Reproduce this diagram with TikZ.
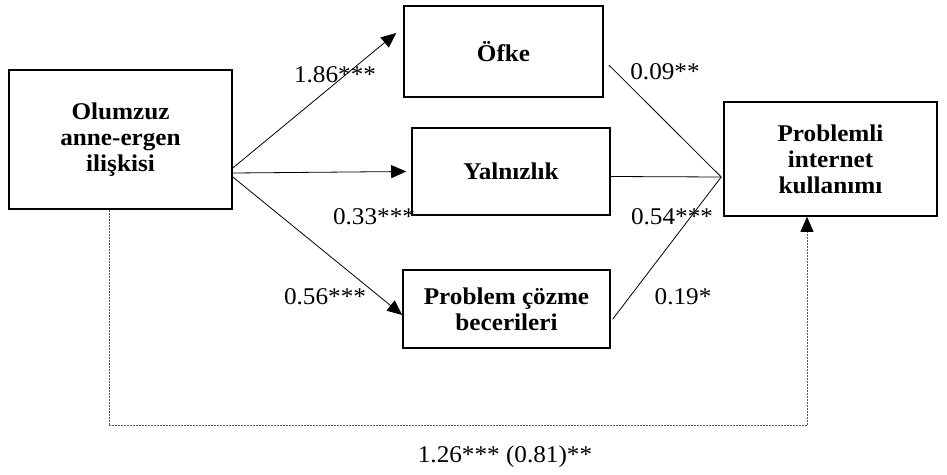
\documentclass[tikz,border=0pt]{standalone}
\usepackage{fontspec}
\setmainfont{Liberation Serif}[FakeStretch=1.05]
\usetikzlibrary{arrows.meta}
\begin{document}
\begin{tikzpicture}[x=1pt,y=-1pt,
  box/.style={draw, line width=1.6pt, align=center, font=\bfseries\fontsize{24}{26}\selectfont, inner sep=0pt},
  lbl/.style={font=\fontsize{24}{26}\selectfont, inner sep=0pt},
  arr/.style={line width=0.8pt, -{Triangle[length=15pt,width=13pt]}},
  ln/.style={line width=0.8pt},
  dashline/.style={line width=0.9pt, gray!70!black, dash pattern=on 2pt off 1pt}
]
\useasboundingbox (0,0) rectangle (947,474);
\node[box, minimum width=223pt, minimum height=139pt] (ol) at (120.5,139.5) {Olumzuz\\anne-ergen\\ilişkisi};
\node[box, minimum width=199pt, minimum height=91pt] (of) at (503.5,51.5) {Öfke};
\node[box, minimum width=198pt, minimum height=87pt] (ya) at (511,171.5) {Yalnızlık};
\node[box, minimum width=207pt, minimum height=78pt] (pc) at (506.5,309) {Problem çözme\\becerileri};
\node[box, minimum width=213pt, minimum height=114pt] (pi) at (830.5,159) {Problemli\\internet\\kullanımı};

\coordinate (m) at ([xshift=-2pt,yshift=-18pt]pi.west);

\draw[arr] ([yshift=-28.5pt]ol.east) -- ([xshift=-7pt,yshift=18.5pt]of.west);
\draw[arr] ([yshift=-33.5pt]ol.east) -- ([xshift=-5pt]ya.west);
\draw[arr] ([yshift=-37.5pt]ol.east) -- ([yshift=-6pt]pc.west);

\draw[ln] ([xshift=5pt,yshift=-13.5pt]of.east) -- (m);
\draw[ln] ([yshift=-5pt]ya.east) -- (m);
\draw[ln] ([xshift=2pt,yshift=-10pt]pc.east) -- (m);

\draw[dashline, -{Triangle[length=15pt,width=13pt,color=black]}] ([xshift=-11.5pt]ol.south) -- ++(0,216) -| ([xshift=-23.5pt]pi.south);

\node[lbl] (l1) at (335,75) {1.86***};
\node[lbl] (l2) at (374,217) {0.33***};
\node[lbl] (l3) at (325,297) {0.56***};
\node[lbl] (l4) at (665,72) {0.09**};
\node[lbl] (l5) at (672,217) {0.54***};
\node[lbl] (l6) at (683,297) {0.19*};
\node[lbl] (l7) at (505,457) {1.26*** (0.81)**};
\end{tikzpicture}
\end{document}
